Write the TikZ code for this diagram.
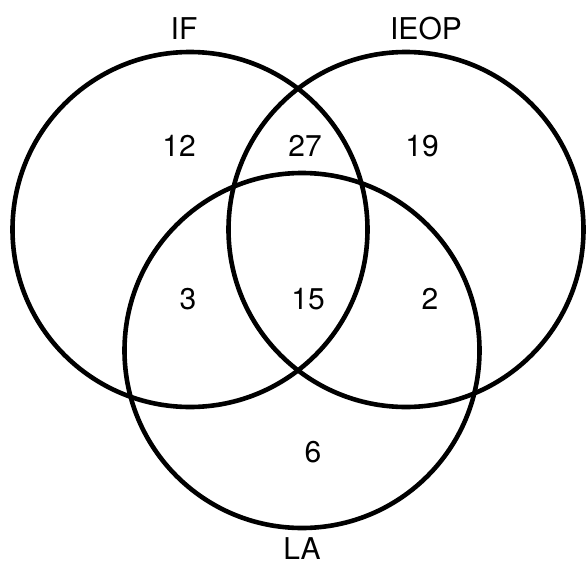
\documentclass[tikz,border=0pt]{standalone}
\usepackage{fontspec}
\setmainfont{TeX Gyre Heros}
\usetikzlibrary{positioning}

\begin{document}
\begin{tikzpicture}[x=1pt, y=-1pt,
    setcircle/.style={draw, circle, line width=4.6pt, minimum size=355pt, inner sep=0pt},
    setname/.style={font=\fontsize{30}{36}\selectfont, inner sep=0pt},
    count/.style={font=\fontsize{30}{36}\selectfont, inner sep=0pt}]
  \useasboundingbox (0,0) rectangle (587,565);
  % Sets
  \node[setcircle] (ifset) at (190,229.5) {};
  \node[setcircle] (ieopset) at (406,229.5) {};
  \node[setcircle] (laset) at (302,350.5) {};
  % Set names
  \node[setname] (iflabel) at (184,29) {IF};
  \node[setname] (ieoplabel) at (426,29) {IEOP};
  \node[setname] (lalabel) at (302,549) {LA};
  % Region counts
  \node[count] (onlyif) at (179,146) {12};
  \node[count] (ifieop) at (305,146) {27};
  \node[count] (onlyieop) at (422,146) {19};
  \node[count] (ifla) at (188,299) {3};
  \node[count] (allthree) at (308,299) {15};
  \node[count] (ieopla) at (430,299) {2};
  \node[count] (onlyla) at (313,452) {6};
\end{tikzpicture}
\end{document}
